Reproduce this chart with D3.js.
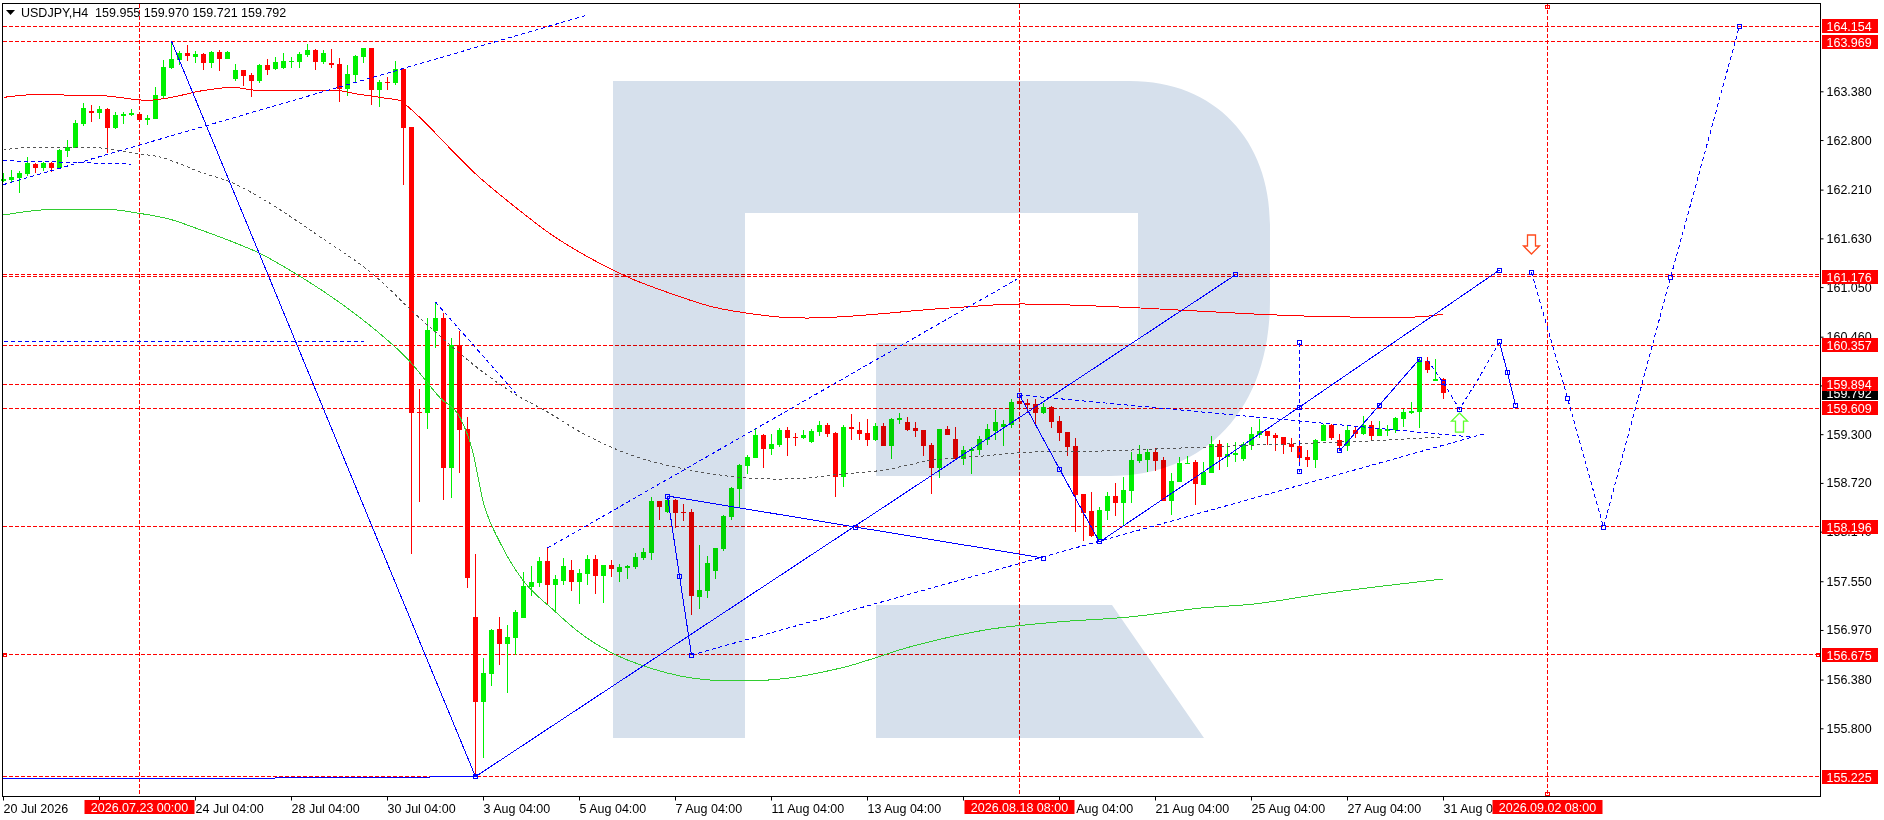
<!DOCTYPE html>
<html lang="en">

<head>
  <meta charset="UTF-8">
  <title>USDJPY,H4</title>
  <script src="https://cdn.jsdelivr.net/npm/d3@7.6.1/dist/d3.min.js"></script>
  <style>
    html, body { margin: 0; padding: 0; background: #fff; }
    svg { display: block; }
    text { font-family: "Liberation Sans", Arial, sans-serif; font-size: 12.5px; fill: #000; }
    .axis text { font-family: "Liberation Sans", Arial, sans-serif; font-size: 12.5px; }
    .axis path.domain { display: none; }
  </style>
</head>

<body>
  <div id="box"></div>
  <script>
    const opens = [162.312,162.324,162.348,162.396,162.514,162.467,162.526,162.467,162.669,162.705,
      162.990,163.145,163.121,163.169,162.943,163.086,163.098,163.109,163.038,163.050,
      163.324,163.657,163.752,163.835,163.788,163.823,163.716,163.847,163.764,163.526,
      163.633,163.574,163.502,163.693,163.645,163.657,163.728,163.728,163.812,163.871,
      163.728,163.716,163.704,163.407,163.574,163.788,163.895,163.395,163.490,163.478,
      163.645,162.955,159.563,159.551,160.527,160.682,158.897,160.361,159.361,157.124,
      156.113,156.446,156.981,156.803,156.875,157.112,157.481,157.529,157.791,157.505,
      157.553,157.683,157.541,157.636,157.814,157.612,157.743,157.660,157.707,157.719,
      157.826,157.885,158.504,158.373,158.516,158.373,158.373,157.362,157.434,157.672,
      157.933,158.314,158.647,158.921,159.016,159.290,159.123,159.171,159.349,159.266,
      159.254,159.207,159.325,159.409,159.314,158.790,159.385,159.349,159.314,159.230,
      159.397,159.159,159.468,159.445,159.373,159.349,159.171,158.897,159.361,159.242,
      159.004,159.099,159.111,159.230,159.337,159.385,159.409,159.694,159.670,159.658,
      159.551,159.623,159.456,159.325,159.159,158.587,158.385,158.052,158.385,158.564,
      158.480,158.623,158.980,158.992,159.087,158.992,158.504,158.731,158.945,158.968,
      158.695,158.838,159.183,159.028,159.052,159.004,159.171,159.290,159.337,159.290,
      159.266,159.183,159.159,159.028,158.992,159.218,159.409,159.230,159.159,159.349,
      159.302,159.409,159.278,159.337,159.349,159.480,159.551,159.563,160.170,159.932,159.955]
    const highs = [162.407,162.443,162.431,162.598,162.526,162.538,162.538,162.693,162.800,163.038,
      163.240,163.217,163.205,163.181,163.133,163.133,163.169,163.121,163.098,163.431,
      163.752,163.978,163.859,163.930,163.859,163.835,163.859,163.871,163.859,163.704,
      163.633,163.597,163.704,163.764,163.788,163.835,163.788,163.847,163.942,163.883,
      163.871,163.883,163.776,163.693,163.812,163.895,163.895,163.514,163.550,163.740,
      163.645,162.955,159.837,160.682,160.872,160.741,160.444,160.527,159.504,157.873,
      156.636,156.981,157.124,157.029,157.208,157.660,157.731,157.838,157.945,157.624,
      157.826,157.802,157.695,157.862,157.862,157.743,157.802,157.755,157.743,157.885,
      157.945,158.552,158.504,158.540,158.528,158.468,158.409,157.981,157.850,157.945,
      158.338,158.671,158.945,159.052,159.361,159.302,159.302,159.373,159.385,159.314,
      159.349,159.361,159.456,159.433,159.325,159.409,159.540,159.445,159.480,159.433,
      159.433,159.492,159.551,159.504,159.445,159.349,159.195,159.361,159.397,159.385,
      159.159,159.147,159.278,159.421,159.587,159.468,159.718,159.754,159.718,159.718,
      159.670,159.635,159.516,159.325,159.254,158.587,158.611,158.433,158.611,158.718,
      158.790,159.087,159.171,159.123,159.135,159.028,158.838,159.028,159.040,158.992,
      158.968,159.278,159.230,159.195,159.207,159.207,159.385,159.480,159.337,159.314,
      159.266,159.254,159.230,159.111,159.242,159.421,159.421,159.302,159.397,159.397,
      159.516,159.456,159.456,159.409,159.504,159.599,159.682,160.206,160.218,160.194,159.970]
    const lows = [162.300,162.300,162.170,162.372,162.407,162.431,162.419,162.467,162.598,162.705,
      162.967,163.014,163.050,162.645,162.931,162.990,163.086,163.038,162.979,163.050,
      163.288,163.645,163.693,163.740,163.716,163.633,163.657,163.621,163.764,163.502,
      163.443,163.312,163.478,163.574,163.633,163.645,163.657,163.657,163.788,163.633,
      163.704,163.657,163.252,163.324,163.490,163.716,163.217,163.193,163.395,163.455,
      162.265,157.873,158.492,159.361,160.325,158.516,158.540,158.838,157.469,155.232,
      155.446,156.303,156.553,156.220,156.672,157.112,157.374,157.481,157.279,157.196,
      157.505,157.434,157.279,157.505,157.398,157.291,157.600,157.541,157.576,157.695,
      157.802,157.802,158.278,158.361,158.183,158.266,157.148,157.219,157.350,157.576,
      157.909,158.278,158.421,158.826,159.016,158.897,159.052,159.147,159.040,159.159,
      159.242,159.195,159.278,159.266,158.552,158.671,159.230,159.230,159.159,159.218,
      159.159,159.004,159.421,159.337,159.266,159.040,158.587,158.778,159.290,158.992,
      158.933,158.826,159.052,159.171,159.230,159.159,159.373,159.623,159.551,159.409,
      159.540,159.373,159.218,159.040,158.135,158.028,158.076,158.040,158.278,158.326,
      158.207,158.480,158.957,158.850,158.862,158.504,158.338,158.731,158.945,158.457,
      158.695,158.838,158.873,158.909,158.968,158.980,159.111,159.254,159.171,159.099,
      159.064,159.087,158.921,158.909,158.897,159.218,159.230,159.111,159.099,159.254,
      159.290,159.218,159.278,159.278,159.314,159.385,159.540,159.373,160.027,159.932,159.721]
    const closes = [162.336,162.360,162.407,162.526,162.467,162.526,162.467,162.681,162.717,163.002,
      163.181,163.121,163.169,162.943,163.098,163.109,163.121,163.038,163.062,163.336,
      163.669,163.764,163.835,163.800,163.823,163.716,163.847,163.764,163.847,163.633,
      163.562,163.502,163.693,163.633,163.728,163.740,163.740,163.823,163.871,163.728,
      163.835,163.693,163.407,163.585,163.800,163.895,163.395,163.490,163.478,163.645,
      162.943,159.551,159.551,160.539,160.682,158.897,160.361,159.349,157.588,156.113,
      156.458,156.969,156.803,156.886,157.184,157.493,157.541,157.791,157.505,157.576,
      157.731,157.541,157.648,157.814,157.612,157.743,157.695,157.719,157.731,157.838,
      157.897,158.504,158.433,158.516,158.361,158.361,157.374,157.445,157.767,157.945,
      158.326,158.659,158.933,159.028,159.290,159.123,159.183,159.349,159.254,159.254,
      159.290,159.337,159.409,159.302,158.790,159.385,159.361,159.302,159.230,159.397,
      159.159,159.480,159.492,159.349,159.337,159.159,158.897,159.361,159.290,159.004,
      159.111,159.123,159.242,159.361,159.445,159.421,159.682,159.658,159.647,159.551,
      159.623,159.445,159.314,159.147,158.576,158.361,158.087,158.397,158.564,158.480,
      158.635,158.992,159.064,159.087,158.980,158.504,158.743,158.957,158.957,158.707,
      158.850,159.183,159.028,159.064,159.076,159.183,159.302,159.337,159.278,159.254,
      159.171,159.147,159.016,158.992,159.230,159.409,159.254,159.159,159.349,159.302,
      159.409,159.278,159.361,159.361,159.492,159.563,159.575,160.182,160.063,159.956,159.792]

    // moving averages, [bar, price]
    const maRed = [[0,163.308],[4.6,163.344],[7.5,163.336],[12.4,163.327],[18,163.273],[21,163.308],[24.6,163.383],[28.7,163.427],
      [31.7,163.391],[37.5,163.395],[41.7,163.391],[43.7,163.356],[47.4,163.303],[49.6,163.268],[50.3,163.217],[56.4,162.645],
      [59.3,162.372],[62.1,162.146],[64.9,161.932],[68.2,161.694],[73.3,161.396],[78.9,161.134],[82.9,160.991],[88.7,160.813],
      [93.7,160.730],[97,160.694],[100.4,160.682],[118.2,160.801],[127.2,160.849],[142.2,160.801],[156.3,160.730],[162.6,160.706],
      [168.6,160.694],[176.4,160.694],[180,160.730]]
    const maGray = [[0,162.681],[3.7,162.717],[10.4,162.717],[13.3,162.693],[17.1,162.634],[19.6,162.598],[22.1,162.514],[24.6,162.419],
      [28.7,162.288],[32.4,162.098],[39.6,161.646],[46.3,161.194],[51.2,160.754],[55.4,160.396],[59.6,160.063],[63.7,159.790],
      [68,159.564],[72.1,159.326],[76.2,159.135],[80.4,158.992],[84.6,158.897],[88.7,158.826],[92.9,158.778],[97,158.766],
      [99.6,158.772],[103.7,158.814],[110,158.873],[116.2,158.992],[122.4,159.040],[128.7,159.087],[137.1,159.099],[147.1,159.135],
      [156.7,159.171],[163.7,159.195],[170.4,159.218],[179.6,159.266]]
    const maGreen = [[0,161.908],[4.6,161.967],[7.1,161.979],[12.6,161.979],[16.7,161.932],[20.7,161.860],[24.7,161.729],[28.7,161.586],
      [32.2,161.444],[34.7,161.313],[37.2,161.170],[42.1,160.861],[47.1,160.492],[50.4,160.206],[54.6,159.730],[57.1,159.492],
      [58.6,159.111],[60,158.481],[62.1,158.005],[64.9,157.565],[68.6,157.220],[72.4,156.910],[75.8,156.708],[80.8,156.518],
      [84.6,156.422],[88.2,156.375],[91.2,156.363],[95.7,156.375],[104.7,156.518],[113.7,156.779],[122.7,156.970],[131.7,157.065],
      [140.7,157.124],[149.7,157.231],[156.3,157.279],[164.7,157.398],[180,157.577]]

    // blue analysis lines, [bar, price]
    const solidLines = [
      [[0,155.197],[14.6,155.2],[44.2,155.213],[59,155.225]],
      [[21,163.975],[59,155.225],[154,161.196]],
      [[83,158.564],[84.5,157.612],[86,156.672]],
      [[83,158.564],[106.5,158.195],[130,157.826]],
      [[127,159.766],[132,158.885],[137,158.017]],
      [[137,158.017],[162,159.623],[187,161.253]],
      [[167,159.100],[172,159.647],[177,160.194]],
      [[187,160.397],[188,160.028],[189,159.647]]
    ]
    const dashedLines = [
      [[0,162.27],[73,164.288]],
      [[0,162.554],[7,162.538],[16,162.514]],
      [[0,160.408],[45,160.408]],
      [[54,160.872],[64,159.790]],
      [[68,157.945],[126.7,161.146]],
      [[86,156.672],[185,159.302]],
      [[127,159.766],[183.5,159.266]],
      [[162,160.385],[162,158.850]],
      [[178,160.182],[180,159.909],[182,159.599],[184.5,159.980],[187,160.397]],
      [[191,161.229],[195.5,159.730],[200,158.195],[208.4,161.170],[217,164.157]]
    ]
    const anchors = [[59,155.225],[154,161.196],[83,158.564],[84.5,157.612],[86,156.672],[106.5,158.195],[130,157.826],
      [127,159.766],[132,158.885],[137,158.017],[162,159.623],[187,161.253],[167,159.100],[172,159.647],[177,160.194],
      [180,159.909],[182,159.599],[187,160.397],[188,160.028],[189,159.647],[162,160.385],[162,158.850],
      [191,161.229],[195.5,159.730],[200,158.195],[208.4,161.170],[217,164.157]]

    const levelLabels = [164.154, 163.969, 161.176, 160.357, 159.894, 159.609, 158.196, 156.675, 155.225]
    const extraLevels = [161.2]
    const lastPrice = 159.792
    const priceTicks = [163.38, 162.8, 162.21, 161.63, 161.05, 160.46, 159.88, 159.3, 158.72, 158.14, 157.55, 156.97, 156.38, 155.8]
    const hiddenPriceTicks = [159.88]
    const timeTickBars = [0, 12, 24, 36, 48, 60, 72, 84, 96, 108, 120, 132, 144, 156, 168, 180]
    // the 22 Jul and 17 Aug labels sit completely under the red time labels
    const timeTickLabels = ['20 Jul 2026', '', '24 Jul 04:00', '28 Jul 04:00', '30 Jul 04:00', '3 Aug 04:00', '5 Aug 04:00',
      '7 Aug 04:00', '11 Aug 04:00', '13 Aug 04:00', '', '19 Aug 04:00', '21 Aug 04:00', '25 Aug 04:00', '27 Aug 04:00', '31 Aug 04:00']
    const vLineBars = [17, 127, 193]
    const vLineLabels = ['2026.07.23 00:00', '2026.08.18 08:00', '2026.09.02 08:00']
    const sellArrow = [191, 161.444]
    const buyArrow = [182, 159.551]
    const header = 'USDJPY,H4  159.955 159.970 159.721 159.792'

    const width = 1884
    const height = 820
    const frame = { left: 2.5, top: 3.5, right: 1820.5, bottom: 796.5 }

    const x = d3.scaleLinear().domain([0, 1]).range([3.5, 11.5])
    const y = d3.scaleLinear().domain([155.8, 163.38]).range([728.3, 91.3])
    const py = v => Math.round(y(v) - 0.5) + 0.5

    const svg = d3.select('#box').append('svg').attr('width', width).attr('height', height)
    svg.append('rect').attr('width', width).attr('height', height).attr('fill', '#fff')

    /* level lines and time lines */
    const levelsG = svg.append('g').attr('shape-rendering', 'crispEdges')
    levelsG.selectAll('line.h').data(levelLabels.concat(extraLevels)).join('line')
      .attr('class', 'h')
      .attr('x1', frame.left).attr('x2', frame.right)
      .attr('y1', py).attr('y2', py)
      .attr('stroke', '#f00').attr('stroke-dasharray', '4,2')
    levelsG.selectAll('line.v').data(vLineBars).join('line')
      .attr('class', 'v')
      .attr('x1', d => x(d)).attr('x2', d => x(d))
      .attr('y1', frame.top).attr('y2', frame.bottom)
      .attr('stroke', '#f00').attr('stroke-dasharray', '4,2')
    // little handles at the ends of the last time line and the 156.675 level
    levelsG.selectAll('rect.tv').data([frame.top + 2, frame.bottom - 4]).join('rect')
      .attr('class', 'tv')
      .attr('x', x(vLineBars[2]) - 2).attr('y', d => d).attr('width', 4).attr('height', 3)
      .attr('fill', 'none').attr('stroke', '#f00')
    levelsG.selectAll('rect.th').data([frame.left + 1, frame.right - 4]).join('rect')
      .attr('class', 'th')
      .attr('x', d => d).attr('y', py(levelLabels[7]) - 1).attr('width', 3).attr('height', 3)
      .attr('fill', 'none').attr('stroke', '#f00')

    /* candles */
    const bars = d3.range(opens.length)
    const candleG = svg.append('g').attr('shape-rendering', 'crispEdges')
    const colorOf = i => closes[i] >= opens[i] ? '#00f000' : '#f00'
    candleG.selectAll('line').data(bars).join('line')
      .attr('x1', i => x(i)).attr('x2', i => x(i))
      .attr('y1', i => Math.round(y(highs[i]))).attr('y2', i => Math.round(y(lows[i])))
      .attr('stroke', colorOf)
    candleG.selectAll('rect').data(bars).join('rect')
      .attr('x', i => x(i) - 2.5)
      .attr('width', 5)
      .attr('y', i => Math.round(y(Math.max(opens[i], closes[i]))))
      .attr('height', i => Math.max(1, Math.round(y(Math.min(opens[i], closes[i]))) - Math.round(y(Math.max(opens[i], closes[i])))))
      .attr('fill', colorOf)

    /* watermark */
    const logo = d3.path()
    logo.moveTo(613, 81)
    logo.lineTo(1130, 81)
    logo.bezierCurveTo(1215, 81, 1270, 140, 1270, 225)
    logo.lineTo(1270, 300)
    logo.bezierCurveTo(1270, 410, 1205, 476, 1110, 476)
    logo.lineTo(876, 476)
    logo.lineTo(876, 343)
    logo.lineTo(1138, 343)
    logo.lineTo(1138, 213)
    logo.lineTo(745, 213)
    logo.lineTo(745, 738)
    logo.lineTo(613, 738)
    logo.closePath()
    logo.moveTo(876, 605)
    logo.lineTo(1112, 605)
    logo.lineTo(1204, 738)
    logo.lineTo(876, 738)
    logo.closePath()
    svg.append('path').attr('d', logo.toString())
      .attr('fill', '#d6e0ec')
      .style('mix-blend-mode', 'multiply')

    /* moving averages */
    const maLine = d3.line().x(d => x(d[0])).y(d => y(d[1])).curve(d3.curveMonotoneX)
    const maG = svg.append('g').attr('shape-rendering', 'crispEdges').attr('fill', 'none')
    maG.append('path').attr('d', maLine(maGray)).attr('stroke', '#555').attr('stroke-dasharray', '3,3')
    maG.append('path').attr('d', maLine(maGreen)).attr('stroke', '#32cd32')
    maG.append('path').attr('d', maLine(maRed)).attr('stroke', '#f00')

    /* blue lines */
    const trend = d3.line().x(d => x(d[0])).y(d => y(d[1]))
    const blueG = svg.append('g').attr('shape-rendering', 'crispEdges').attr('fill', 'none').attr('stroke', '#00f')
    blueG.append('g').selectAll('path').data(solidLines).join('path').attr('d', trend)
    blueG.append('g').attr('stroke-dasharray', '4,3').selectAll('path').data(dashedLines).join('path').attr('d', trend)
    blueG.append('g').selectAll('rect').data(anchors).join('rect')
      .attr('x', d => Math.round(x(d[0])) - 2.5)
      .attr('y', d => py(d[1]) - 2)
      .attr('width', 4).attr('height', 4)

    /* arrows */
    const arrowPath = (cx, tip, dir) => {
      const p = d3.path()
      p.moveTo(cx, tip)
      p.lineTo(cx + 8, tip + dir * 8)
      p.lineTo(cx + 4, tip + dir * 8)
      p.lineTo(cx + 4, tip + dir * 19)
      p.lineTo(cx - 4, tip + dir * 19)
      p.lineTo(cx - 4, tip + dir * 8)
      p.lineTo(cx - 8, tip + dir * 8)
      p.closePath()
      return p.toString()
    }
    svg.append('path').attr('d', arrowPath(x(sellArrow[0]), y(sellArrow[1]), -1))
      .attr('fill', '#fff').attr('stroke', '#ff4a1c').attr('stroke-width', 1.3)
    svg.append('path').attr('d', arrowPath(x(buyArrow[0]), y(buyArrow[1]), 1))
      .attr('fill', '#fff').attr('stroke', '#5cff2c').attr('stroke-width', 1.3)

    /* frame */
    svg.append('rect')
      .attr('x', frame.left).attr('y', frame.top)
      .attr('width', frame.right - frame.left).attr('height', frame.bottom - frame.top)
      .attr('fill', 'none').attr('stroke', '#000').attr('shape-rendering', 'crispEdges')

    /* axes */
    const yAxis = d3.axisRight(y).tickValues(priceTicks)
      .tickFormat(d => hiddenPriceTicks.includes(d) ? '' : d3.format('.3f')(d))
      .tickSize(3).tickPadding(3)
    svg.append('g').attr('class', 'axis').attr('transform', `translate(${frame.right},0)`).call(yAxis)
    const xAxis = d3.axisBottom(x).tickValues(timeTickBars).tickFormat((d, i) => timeTickLabels[i]).tickSize(4).tickPadding(4).offset(0)
    const xG = svg.append('g').attr('class', 'axis').attr('transform', `translate(0,${frame.bottom})`).call(xAxis)
    xG.selectAll('text').attr('text-anchor', 'start')

    /* price and time labels */
    const labelG = svg.append('g')
    const priceLabel = (v, fill) => {
      labelG.append('rect').attr('x', 1822).attr('y', Math.round(y(v)) - 7).attr('width', 56).attr('height', 14).attr('fill', fill)
      labelG.append('text').attr('x', 1826.5).attr('y', Math.round(y(v)) + 4.5).style('fill', '#fff').text(v.toFixed(3))
    }
    priceLabel(lastPrice, '#000')
    levelLabels.forEach(v => priceLabel(v, '#f00'))
    vLineBars.forEach((b, i) => {
      labelG.append('rect').attr('x', x(b) - 55).attr('y', 800).attr('width', 110).attr('height', 14).attr('fill', '#f00')
      labelG.append('text').attr('x', x(b)).attr('y', 811.5).attr('text-anchor', 'middle').style('fill', '#fff').text(vLineLabels[i])
    })

    /* header */
    svg.append('path').attr('d', 'M6,10L15,10L10.5,15Z').attr('fill', '#000')
    svg.append('text').attr('x', 21).attr('y', 17).attr('xml:space', 'preserve').style('white-space', 'pre').text(header)
  </script>
</body>

</html>
